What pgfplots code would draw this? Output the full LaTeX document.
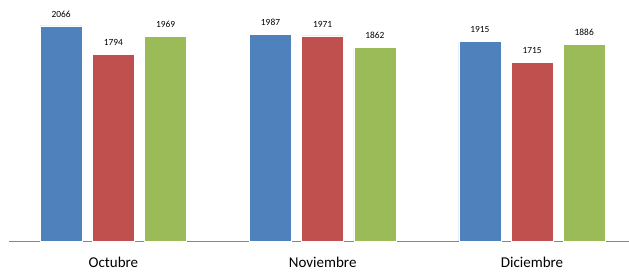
\documentclass[border=0pt]{standalone}
\usepackage{fontspec}
\setmainfont{Carlito}
\usepackage{pgfplots}
\pgfplotsset{compat=1.18}
\definecolor{xblue}{HTML}{4F81BD}
\definecolor{xred}{HTML}{C0504D}
\definecolor{xgreen}{HTML}{9BBB59}
\definecolor{axisgray}{HTML}{868686}
\begin{document}
\begin{tikzpicture}[x=1pt,y=1pt]
\useasboundingbox (0,0) rectangle (629,273);
\begin{axis}[
  at={(8.7pt,32pt)}, anchor=south west,
  scale only axis,
  width=628pt, height=239.4pt,
  xmin=-0.5, xmax=2.5,
  ymin=0, ymax=2300,
  ybar=10.2pt, bar width=42pt,
  axis x line=bottom, axis y line=none,
  axis line style={-, draw=axisgray, line width=1pt},
  xtick={0,1,2},
  xticklabels={Octubre,Noviembre,Diciembre},
  major tick length=0pt,
  xticklabel style={font=\fontsize{15}{17}\selectfont, yshift=-13pt},
  /pgf/number format/assume math mode=true,
  /pgf/number format/1000 sep={},
  nodes near coords,
  every node near coord/.append style={font=\fontsize{9.4}{10}\selectfont, inner sep=0pt, yshift=8.5pt, text=black},
  clip=false,
]
\addplot[fill=xblue, draw=white, line width=0.6pt] coordinates {(0,2066) (1,1987) (2,1915)};
\addplot[fill=xred, draw=white, line width=0.6pt] coordinates {(0,1794) (1,1971) (2,1715)};
\addplot[fill=xgreen, draw=white, line width=0.6pt] coordinates {(0,1969) (1,1862) (2,1886)};
\end{axis}
\end{tikzpicture}
\end{document}
